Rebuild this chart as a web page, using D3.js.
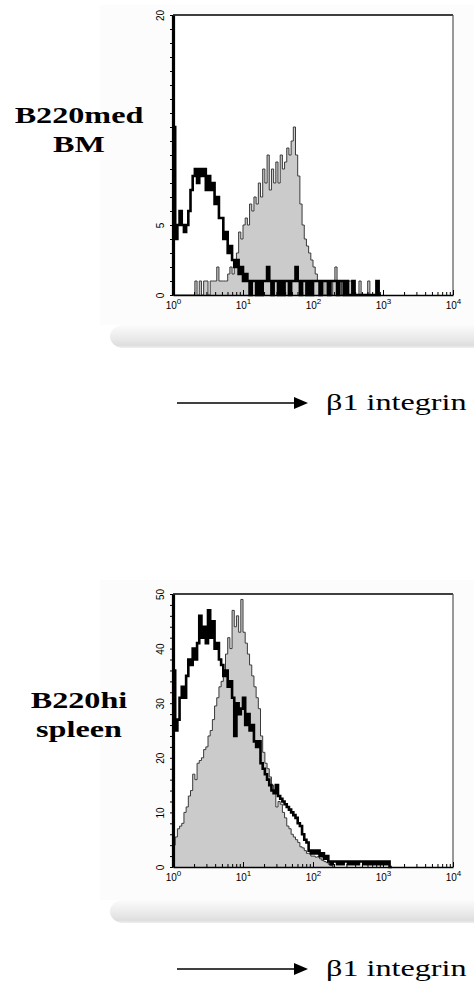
<!DOCTYPE html>
<html>
<head>
<meta charset="utf-8">
<script src="https://cdn.jsdelivr.net/npm/d3@7/dist/d3.min.js"></script>
<style>
  html, body { margin: 0; padding: 0; background: #ffffff; }
  svg { display: block; }
</style>
</head>
<body>
<svg id="chart" width="474" height="981"></svg>
<script>
// ---------------- DATA ----------------
// histogram channels: bin i sits at 10^(i / binsPerDecade)
const binsPerDecade = 32;
const xDecadeTicks = [1, 10, 100, 1000, 10000];

const panelTitles = [["B220med", "BM"], ["B220hi", "spleen"]];
const axisTitle = "\u03B21 integrin";

// B220med BM — control (black line) and β1 integrin stain (grey filled)
const bmControl = [12,4,5,6,5,4.5,5,6,7.5,8.5,9,8,9,8.5,9,7.5,8.5,7.5,8,6.5,
  7,5.5,5.5,4,4.5,3,3.5,2.5,2,2.5,1.5,2,1,1.5,1,0,1,1,0,1,
  0,1,1,2,1,0,1,1,0,1,0,1,1,0,1,1,2,1,0,1,
  1,0,1,0,1,1,1,0,1,1,1,0,1,1,1,0,1,1,0,1,
  0,0,1,0,0,0,0,0,0,0,0,0,0,1,0];
const bmBeta1 = [0,0,0,0,0,0,0,0,0,0,1,0,1,0,1,1,0,1,1,1,
  2,1,1,1,1,1.5,2,1.5,2,3,4.5,4,5,5.5,5,6.5,6,7,6.5,8,
  7,9,8,10,7.5,9,8,9.5,8,10,9,9.5,10.5,10,11,12,10,8.5,6.5,5,
  4,3.5,3,2.5,2,1.5,1,1,1,0,1,1,0,1,2,1,1,0,1,0,
  1,1,0,0,0,1,0,0,0,1,0,0,0,1,0];
const bmYTicks = d3.range(0, 21, 1);
const bmYLabels = [0, 5, 20];

// B220hi spleen — control (black line) and β1 integrin stain (grey filled)
const spleenControl = [36,25,27,31,33,31,35,38,37,40,38,41,46,42,44,41,47,42,45,40,
  41,38,37,35,36,33,34,31,24,30,28,29,31,26,28,25,26,23,22,23,
  19,18,17,16,15,14,13.5,15,13,12.5,12,11.5,11,10.5,10,9.5,9,8,7.5,6,
  5,4.5,3,2.5,3,2.5,3,2,2.5,1.5,2,1,0.5,1,1,0.5,1,0.5,1,1,
  0.5,1,0.5,1,0.5,1,1,0.5,1,0.5,1,0.5,1,0.5,1,0.5,1,0.5,1,0];
const spleenBeta1 = [4,5.5,7,7.5,8,10,11,13,14,17,16,19,19.5,20,21.5,22,24,25,27,29.5,
  31,33,34,36,39,42,40,47,44,46,43,49,43,41,39,37,35,33,31,29,
  24,21,19,18,16.5,15,14,11,12,11.5,10,9,7.5,7,6,5.5,5,4.5,3.7,3.5,
  3,2.5,2.5,2,2,1.8,1.9,1.5,1.2,1,0.8,0.5,0.3,0];
const spleenYTicks = d3.range(0, 51, 2);
const spleenYLabels = [0, 10, 20, 30, 40, 50];

// ---------------- LAYOUT ----------------
const svg = d3.select("#chart");
const defs = svg.append("defs");
const grad = defs.append("linearGradient").attr("id", "shelf")
  .attr("x1", 0).attr("y1", 0).attr("x2", 0).attr("y2", 1);
grad.append("stop").attr("offset", "0%").attr("stop-color", "#fbfbfb");
grad.append("stop").attr("offset", "60%").attr("stop-color", "#e9e9e9");
grad.append("stop").attr("offset", "88%").attr("stop-color", "#dedede");
grad.append("stop").attr("offset", "100%").attr("stop-color", "#efefef");

const panels = [
  { control: bmControl, stain: bmBeta1, yMax: 20, ticks: bmYTicks, labels: bmYLabels,
    top: 15, bottom: 295, titleY: [123, 152], arrowY: 403, textY: 410,
    bgTop: 5, shelfY: 325, shelfH: 23, title: panelTitles[0] },
  { control: spleenControl, stain: spleenBeta1, yMax: 50, ticks: spleenYTicks, labels: spleenYLabels,
    top: 594, bottom: 867, titleY: [708, 737], arrowY: 969, textY: 976,
    bgTop: 580, shelfY: 900, shelfH: 23, title: panelTitles[1] }
];

const left = 173, right = 453;
const x = d3.scaleLog().domain([xDecadeTicks[0], xDecadeTicks[xDecadeTicks.length - 1]]).range([left, right]);
const minorX = [];
for (let d = 0; d < 4; d++) for (let m = 2; m <= 9; m++) minorX.push(m * Math.pow(10, d));

panels.forEach(p => {
  // faint background panel and shelf shadow
  svg.append("rect").attr("x", 100).attr("y", p.bgTop).attr("width", 374)
    .attr("height", p.shelfY - p.bgTop).attr("fill", "#fcfcfc");
  svg.append("rect").attr("x", 110).attr("y", p.shelfY).attr("width", 380)
    .attr("height", p.shelfH).attr("rx", 14).attr("fill", "url(#shelf)");
  svg.append("rect").attr("x", left).attr("y", p.top).attr("width", right - left)
    .attr("height", p.bottom - p.top).attr("fill", "#ffffff");

  const y = d3.scaleLinear().domain([0, p.yMax]).range([p.bottom, p.top]);
  const g = svg.append("g");

  const toPts = arr => {
    const pts = arr.map((v, i) => [Math.pow(10, i / binsPerDecade), v]);
    pts.push([Math.pow(10, arr.length / binsPerDecade), 0]);
    return pts;
  };

  // grey filled stain histogram
  const area = d3.area().curve(d3.curveStepAfter)
    .x(d => x(d[0])).y0(y(0)).y1(d => y(d[1]));
  const line = d3.line().curve(d3.curveStepAfter)
    .x(d => x(d[0])).y(d => y(d[1]));
  const stainPts = toPts(p.stain);
  g.append("path").attr("d", area(stainPts)).attr("fill", "#cbcbcb");
  g.append("path").attr("d", line(stainPts)).attr("fill", "none")
    .attr("stroke", "#3a3a3a").attr("stroke-width", 1);

  // black control histogram
  g.append("path").attr("d", line(toPts(p.control))).attr("fill", "none")
    .attr("stroke", "#000").attr("stroke-width", 2.6).attr("stroke-linejoin", "miter");

  // frame: top black, right grey
  svg.append("line").attr("x1", left).attr("x2", right).attr("y1", p.top).attr("y2", p.top)
    .attr("stroke", "#000").attr("stroke-width", 1.5);
  svg.append("line").attr("x1", right).attr("x2", right).attr("y1", p.top).attr("y2", p.bottom)
    .attr("stroke", "#555").attr("stroke-width", 1.2);

  // y axis
  const yAxis = svg.append("g").attr("transform", `translate(${left},0)`)
    .call(d3.axisLeft(y).tickValues(p.ticks).tickSizeInner(3).tickSizeOuter(0)
      .tickFormat(d => p.labels.includes(d) ? d : ""));
  yAxis.select(".domain").attr("stroke-width", 3.2);
  yAxis.selectAll(".tick line").attr("stroke-width", 1);
  yAxis.selectAll(".tick text")
    .attr("font-family", "Arial, 'Liberation Sans', sans-serif").attr("font-size", 10)
    .attr("fill", "#000")
    .attr("x", 0).attr("y", 0).attr("dy", "0.36em").attr("text-anchor", "middle")
    .attr("transform", "translate(-13,0) rotate(-90)");

  // x axis: minor ticks + decade ticks
  const xMinor = svg.append("g").attr("transform", `translate(0,${p.bottom})`)
    .call(d3.axisBottom(x).tickValues(minorX).tickSizeInner(-3).tickSizeOuter(0).tickFormat(""));
  xMinor.select(".domain").remove();
  const xAxis = svg.append("g").attr("transform", `translate(0,${p.bottom})`)
    .call(d3.axisBottom(x).tickValues(xDecadeTicks).tickSizeInner(-5).tickSizeOuter(0));
  xAxis.select(".domain").attr("stroke-width", 1.6);
  xAxis.selectAll(".tick text").each(function(d) {
    const t = d3.select(this);
    t.text("").attr("y", 14).attr("dy", null)
      .attr("font-family", "Arial, 'Liberation Sans', sans-serif").attr("fill", "#000")
      .attr("text-anchor", "middle");
    t.append("tspan").attr("font-size", 10).text("10");
    t.append("tspan").attr("font-size", 8).attr("dy", -5).text(Math.round(Math.log10(d)));
  });

  // panel titles (bold serif)
  p.title.forEach((s, k) => {
    svg.append("text").attr("transform", `translate(79,${p.titleY[k]}) scale(1.4,1)`)
      .attr("text-anchor", "middle").attr("font-family", "'Liberation Serif', 'Times New Roman', serif")
      .attr("font-weight", "bold").attr("font-size", 23).attr("fill", "#000").text(s);
  });

  // arrow and axis title
  svg.append("line").attr("x1", 177).attr("x2", 296).attr("y1", p.arrowY).attr("y2", p.arrowY)
    .attr("stroke", "#000").attr("stroke-width", 1.5);
  svg.append("path").attr("d", `M294,${p.arrowY - 6}L308,${p.arrowY}L294,${p.arrowY + 6}Z`).attr("fill", "#000");
  svg.append("text").attr("transform", `translate(326,${p.textY}) scale(1.4,1)`)
    .attr("font-family", "'Liberation Serif', 'Times New Roman', serif")
    .attr("font-size", 23).attr("fill", "#000").text(axisTitle);
});
</script>
</body>
</html>
